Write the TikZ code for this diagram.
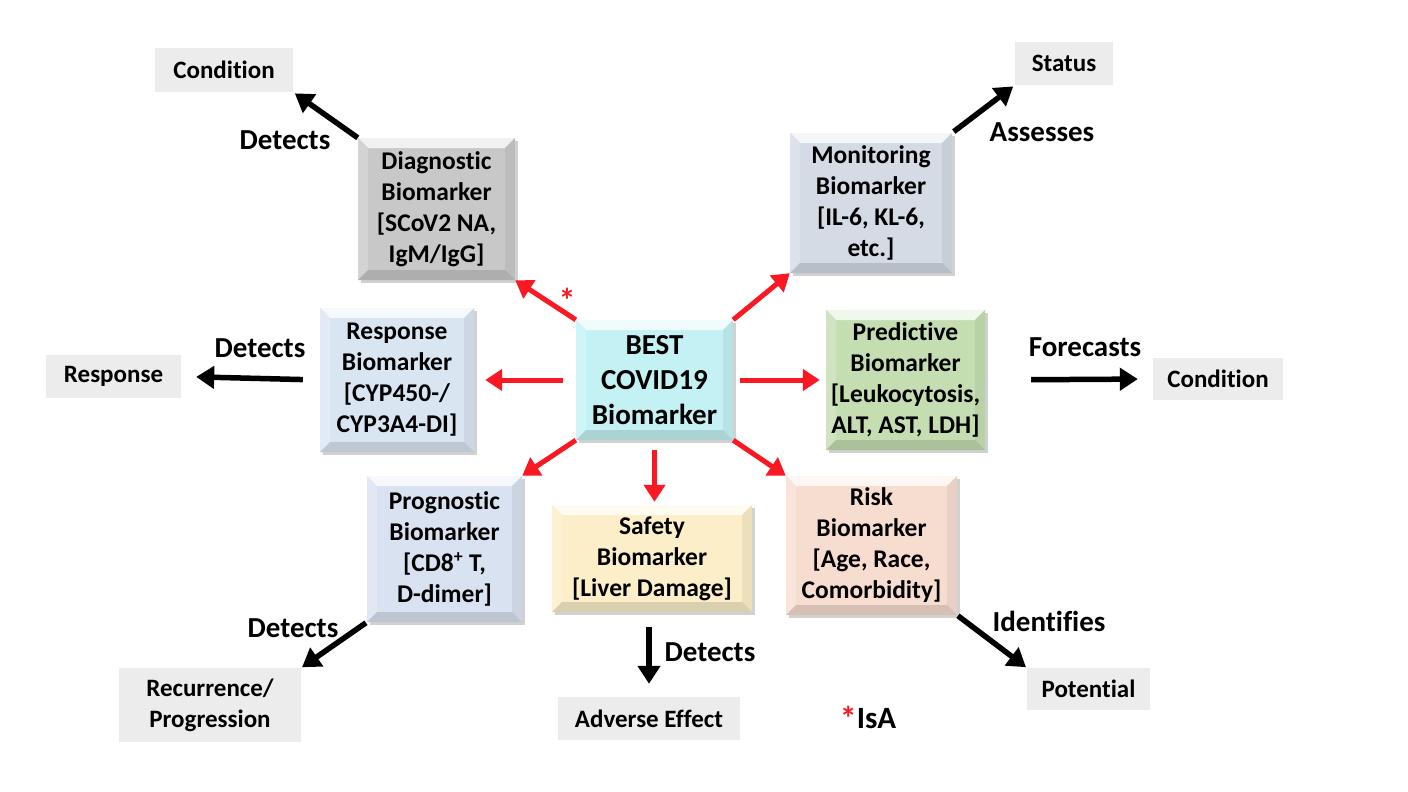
\documentclass[tikz,border=0pt]{standalone}
\usepackage{fontspec}
\setmainfont[Ligatures=NoCommon]{Carlito}
\usetikzlibrary{arrows.meta,shadows}
\definecolor{redA}{RGB}{250,25,35}
\definecolor{cDiag}{RGB}{200,200,200}
\definecolor{cMon}{RGB}{212,219,229}
\definecolor{cResp}{RGB}{218,229,242}
\definecolor{cBest}{RGB}{196,242,244}
\definecolor{cPred}{RGB}{196,222,178}
\definecolor{cProg}{RGB}{217,226,240}
\definecolor{cSafe}{RGB}{251,238,200}
\definecolor{cRisk}{RGB}{246,221,208}
\definecolor{cLab}{RGB}{236,236,236}
\tikzset{
  bev/.style={fill=#1, drop shadow={shadow xshift=2.5pt,shadow yshift=-2.5pt,fill=black,opacity=0.18},
    path picture={
      \coordinate (pA) at (path picture bounding box.north west);
      \coordinate (pB) at (path picture bounding box.north east);
      \coordinate (pC) at (path picture bounding box.south east);
      \coordinate (pD) at (path picture bounding box.south west);
      \coordinate (qa) at ([shift={(10pt,-10pt)}]pA);
      \coordinate (qb) at ([shift={(-10pt,-10pt)}]pB);
      \coordinate (qc) at ([shift={(-10pt,10pt)}]pC);
      \coordinate (qd) at ([shift={(10pt,10pt)}]pD);
      \fill[#1!25!white] (pA)--(pB)--(qb)--(qa)--cycle;
      \fill[#1!80!white] (pA)--(qa)--(qd)--(pD)--cycle;
      \fill[#1!94!black] (pB)--(pC)--(qc)--(qb)--cycle;
      \fill[#1!87!black] (pD)--(qd)--(qc)--(pC)--cycle;
    }},
  bm/.style={font=\bfseries\fontsize{25.5}{31}\selectfont, align=center, inner sep=0pt, text=black},
  lab/.style={fill=cLab, font=\bfseries\fontsize{25}{31}\selectfont, align=center, inner sep=0pt},
  verb/.style={font=\bfseries\fontsize{29}{34}\selectfont, inner sep=0pt},
  blk/.style={line width=5.5pt, -{Triangle[length=18pt,width=22pt]}, black},
  rda/.style={line width=5pt, -{Triangle[length=17pt,width=21pt]}, redA},
}
\begin{document}
\begin{tikzpicture}[x=1pt,y=-1pt]
\useasboundingbox[fill=white] (0,0) rectangle (1408,792);
% biomarker boxes
\node[bm, bev=cDiag, minimum width=157, minimum height=142] (diag) at (436.5,209) {Diagnostic\\Biomarker\\{}[SCoV2 NA,\\IgM/IgG]};
\node[bm, bev=cMon, minimum width=162, minimum height=140] (mon) at (871,203) {Monitoring\\Biomarker\\{}[IL-6, KL-6,\\etc.]};
\node[bm, bev=cResp, minimum width=154, minimum height=144] (resp) at (397,380) {Response\\Biomarker\\{}[CYP450-/\\CYP3A4-DI]};
\node[bm, bev=cBest, minimum width=157, minimum height=120, font=\bfseries\fontsize{29}{35}\selectfont] (best) at (654.5,380) {BEST\\COVID19\\Biomarker};
\node[bm, bev=cPred, minimum width=159, minimum height=140] (pred) at (905.5,380) {Predictive\\Biomarker\\{}[Leukocytosis,\\ALT, AST, LDH]};
\node[bm, bev=cProg, minimum width=155, minimum height=146] (prog) at (444.5,549) {Prognostic\\Biomarker\\{}[CD8\textsuperscript{+} T,\\D-dimer]};
\node[bm, bev=cSafe, minimum width=200, minimum height=107] (safe) at (652,558.5) {Safety\\Biomarker\\{}[Liver Damage]};
\node[bm, bev=cRisk, minimum width=171, minimum height=139] (risk) at (871.5,545.5) {Risk\\Biomarker\\{}[Age, Race,\\Comorbidity]};
% outcome labels
\node[lab, minimum width=138, minimum height=44] (cond1) at (224,70) {Condition};
\node[lab, minimum width=98, minimum height=43] (status) at (1064,63.5) {Status};
\node[lab, minimum width=135, minimum height=43] (respL) at (113.5,376.5) {Response};
\node[lab, minimum width=130, minimum height=42] (cond2) at (1218,379) {Condition};
\node[lab, minimum width=182, minimum height=74] (recur) at (210,705) {Recurrence/\\Progression};
\node[lab, minimum width=182, minimum height=43] (adv) at (649,718.5) {Adverse Effect};
\node[lab, minimum width=123, minimum height=42] (pot) at (1088.5,689) {Potential};
% red IsA arrows
\draw[rda] (best.north west) -- (diag.south east);
\draw[rda] (best.north east) -- (mon.south west);
\draw[rda, shorten <=13pt, shorten >=11pt] (best.west) -- (resp.east);
\draw[rda, shorten <=7pt, shorten >=6pt] (best.east) -- (pred.west);
\draw[rda] (best.south west) -- (prog.north east);
\draw[rda, shorten <=10pt, shorten >=3pt] (best.south) -- (best.south |- safe.north);
\draw[rda] (best.south east) -- (risk.north west);
% black relation arrows
\draw[blk, shorten >=2pt] (diag.north west) -- (cond1.south east);
\draw[blk, shorten <=2pt, shorten >=2pt] (mon.north east) -- (status.south west);
\draw[blk, shorten <=17pt, shorten >=15pt] (resp.west) -- (respL.east);
\draw[blk, shorten <=46pt, shorten >=15pt] (pred.east) -- (cond2.west);
\draw[blk, shorten <=1pt, shorten >=1pt] (prog.south west) -- (recur.north east);
\draw[blk, shorten <=15pt, shorten >=13pt] (safe.south -| adv.north) -- (adv.north);
\draw[blk, shorten <=1pt, shorten >=1pt] (risk.south east) -- (pot.north west);
% verb labels
\node[verb] (v1) at (285,140) {Detects};
\node[verb] (v2) at (1042,132) {Assesses};
\node[verb] (v3) at (260,348) {Detects};
\node[verb] (v4) at (1085,347) {Forecasts};
\node[verb] (v5) at (293,628) {Detects};
\node[verb] (v6) at (710,652) {Detects};
\node[verb] (v7) at (1049,621) {Identifies};
\node[font=\bfseries\fontsize{34}{38}\selectfont, text=redA, inner sep=0pt] (star) at (567,300) {*};
\node[font=\bfseries\fontsize{31}{36}\selectfont, inner sep=0pt] (isa) at (868,718) {\raisebox{-2pt}{\fontsize{34}{36}\selectfont\textcolor{redA}{*}}IsA};
\end{tikzpicture}
\end{document}
